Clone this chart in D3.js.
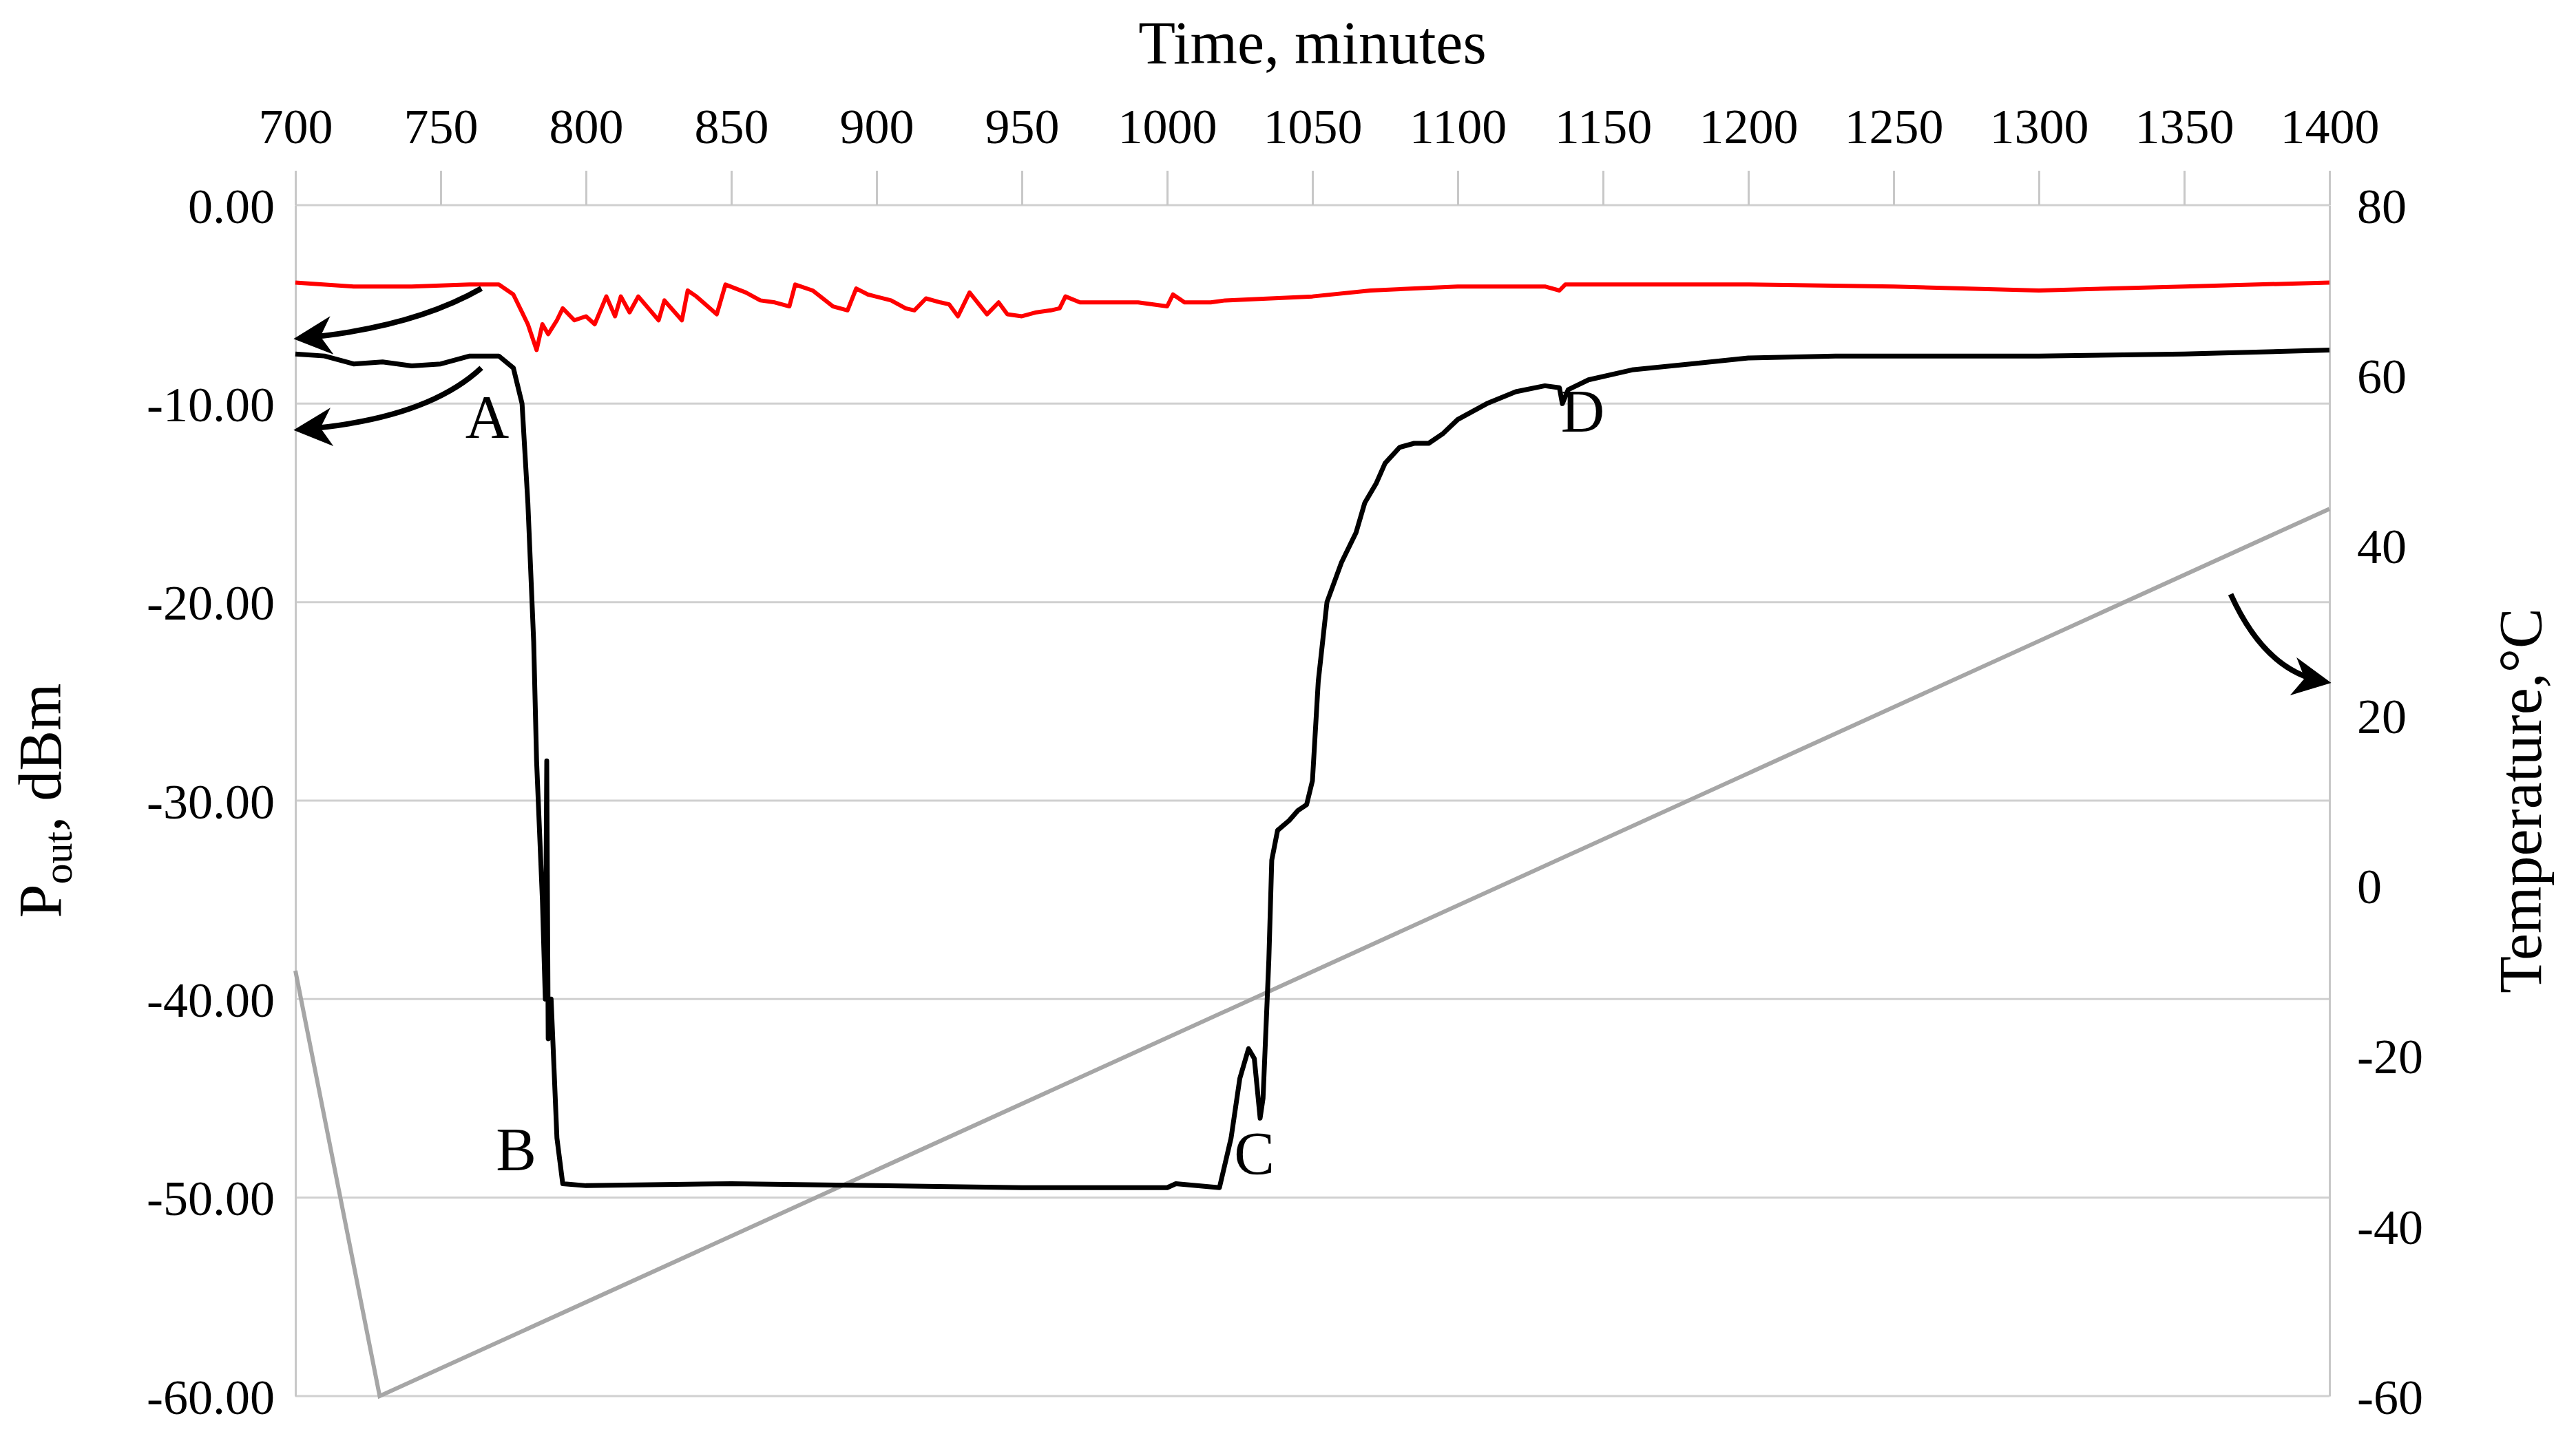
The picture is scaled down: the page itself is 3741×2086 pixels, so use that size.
<!DOCTYPE html>
<html><head><meta charset="utf-8">
<script src="https://cdn.jsdelivr.net/npm/d3@7"></script>
<style>body{margin:0;background:#fff}</style>
</head><body>
<div class="viz"></div>
<script>
// data
const blackMin = [700,710,720,730,740,750,760,770,775,778,780,782,783,785,786,786.5,787,788,790,792,800,850,900,950,1000,1003,1018,1022,1025,1028,1030,1032,1033,1035,1036,1038,1042,1045,1048,1050,1052,1055,1060,1065,1068,1072,1075,1080,1085,1090,1095,1100,1110,1120,1130,1135,1136,1138,1145,1160,1180,1200,1230,1300,1350,1400];
const blackDbm = [-7.5,-7.6,-8.0,-7.9,-8.1,-8.0,-7.6,-7.6,-8.2,-10,-15,-22,-28,-35,-40,-28,-42,-40,-47,-49.3,-49.4,-49.3,-49.4,-49.5,-49.5,-49.3,-49.5,-47,-44,-42.5,-43,-46,-45,-38,-33,-31.5,-31,-30.5,-30.2,-29,-24,-20,-18,-16.5,-15,-14,-13,-12.2,-12,-12,-11.5,-10.8,-10,-9.4,-9.1,-9.2,-10,-9.3,-8.8,-8.3,-8.0,-7.7,-7.6,-7.6,-7.5,-7.3];
const redMin = [700,720,740,760,770,775,780,783,785,787,790,792,796,800,803,807,810,812,815,818,825,827,833,835,838,845,848,855,860,865,870,872,878,885,890,893,897,905,910,913,917,922,925,928,932,938,942,945,950,955,960,963,965,970,990,1000,1002,1006,1015,1020,1050,1070,1100,1130,1135,1137,1200,1250,1300,1350,1400];
const redDbm = [-3.9,-4.1,-4.1,-4.0,-4.0,-4.5,-6,-7.3,-6,-6.5,-5.8,-5.2,-5.8,-5.6,-6,-4.6,-5.6,-4.6,-5.4,-4.6,-5.8,-4.8,-5.8,-4.3,-4.6,-5.5,-4.0,-4.4,-4.8,-4.9,-5.1,-4.0,-4.3,-5.1,-5.3,-4.2,-4.5,-4.8,-5.2,-5.3,-4.7,-4.9,-5.0,-5.6,-4.4,-5.5,-4.9,-5.5,-5.6,-5.4,-5.3,-5.2,-4.6,-4.9,-4.9,-5.1,-4.5,-4.9,-4.9,-4.8,-4.6,-4.3,-4.1,-4.1,-4.3,-4.0,-4.0,-4.1,-4.3,-4.1,-3.9];
const tempMin = [700,729,1400];
const tempC = [-10,-60,44.3];
const xTicks = d3.range(700,1401,50);
const leftTicks = [0,-10,-20,-30,-40,-50,-60];
const rightTicks = [80,60,40,20,0,-20,-40,-60];
const labels = [{t:"A",x:766,y:-11.7},{t:"B",x:776,y:-48.6},{t:"C",x:1030,y:-48.8},{t:"D",x:1143,y:-11.4}];

const W = 3741, H = 2086;
const m = {l:429, r:W-3383, t:298, b:H-2028};
const font = "'Liberation Serif','DejaVu Serif',serif";
const svg = d3.select(".viz").append("svg").attr("width",W).attr("height",H);
const x = d3.scaleLinear().domain([700,1400]).range([m.l, W-m.r]);
const y = d3.scaleLinear().domain([-60,0]).range([H-m.b, m.t]);
const y2 = d3.scaleLinear().domain([-60,80]).range([H-m.b, m.t]);
const hy = f => d => f(d).replace("\u2212","-");

// gridlines
svg.append("g").selectAll("line").data(leftTicks).enter().append("line")
  .attr("x1",m.l).attr("x2",W-m.r).attr("y1",d=>y(d)).attr("y2",d=>y(d))
  .attr("stroke","#d0d0d0").attr("stroke-width",3);

const gx = svg.append("g").attr("transform",`translate(0,${m.t})`)
  .call(d3.axisTop(x).tickValues(xTicks).tickSize(-50).tickPadding(90).tickFormat(d3.format("d")));
const gl = svg.append("g").attr("transform",`translate(${m.l},0)`)
  .call(d3.axisLeft(y).tickValues(leftTicks).tickSize(0).tickPadding(30).tickFormat(hy(d3.format(".2f"))));
const gr = svg.append("g").attr("transform",`translate(${W-m.r},0)`)
  .call(d3.axisRight(y2).tickValues(rightTicks).tickSize(0).tickPadding(40).tickFormat(hy(d3.format("d"))));
[gx,gl,gr].forEach(g=>{
  g.selectAll("text").attr("font-family",font).attr("font-size",72).attr("fill","#000");
  g.selectAll("line").attr("stroke","#c8c8c8").attr("stroke-width",3);
  g.select(".domain").attr("stroke","#c8c8c8").attr("stroke-width",3);
});
gx.select(".domain").remove();
gx.selectAll("line").attr("transform","translate(0,-50)");
gl.selectAll("text").attr("dy","0.35em");
gr.selectAll("text").attr("dy","0.35em");

const line = d3.line().x(d=>x(d[0])).y(d=>y(d[1]));
svg.append("path").datum(tempMin.map((d,i)=>[d,tempC[i]]))
  .attr("d", d3.line().x(d=>x(d[0])).y(d=>y2(d[1])))
  .attr("fill","none").attr("stroke","#a6a6a6").attr("stroke-width",6);
svg.append("path").datum(redMin.map((d,i)=>[d,redDbm[i]])).attr("d",line)
  .attr("fill","none").attr("stroke","#ff0000").attr("stroke-width",6).attr("stroke-linejoin","round");
svg.append("path").datum(blackMin.map((d,i)=>[d,blackDbm[i]])).attr("d",line)
  .attr("fill","none").attr("stroke","#000").attr("stroke-width",7).attr("stroke-linejoin","round");

// point labels
svg.selectAll(".lab").data(labels).enter().append("text")
  .attr("x",d=>x(d.x)).attr("y",d=>y(d.y)).attr("text-anchor","middle")
  .attr("font-family",font).attr("font-size",88).text(d=>d.t);

// curved arrows (from, control, to) in data units
svg.append("defs").append("marker").attr("id","ah").attr("viewBox","0 0 10 10")
  .attr("refX",8).attr("refY",5).attr("markerWidth",7).attr("markerHeight",7)
  .attr("orient","auto").append("path").attr("d","M0,0 L10,5 L0,10 L3,5 Z").attr("fill","#000");
const arrows = [
  {p:[[764,-4.2],[740,-6.2],[702,-6.7]]},
  {p:[[764,-8.2],[745,-10.8],[702,-11.3]]},
  {p:[[1366,-19.6],[1378,-23.5],[1398,-24.0]]}
];
arrows.forEach(a=>{
  const [p0,p1,p2] = a.p.map(d=>[x(d[0]),y(d[1])]);
  svg.append("path").attr("d",`M${p0}Q${p1} ${p2}`).attr("fill","none")
    .attr("stroke","#000").attr("stroke-width",8).attr("marker-end","url(#ah)");
});

// axis titles
svg.append("text").attr("x",(m.l+W-m.r)/2).attr("y",92).attr("text-anchor","middle")
  .attr("font-family",font).attr("font-size",88).text("Time, minutes");
const yt = svg.append("text").attr("transform",`translate(88,${(m.t+H-m.b)/2}) rotate(-90)`)
  .attr("text-anchor","middle").attr("font-family",font).attr("font-size",88);
yt.append("tspan").text("P");
yt.append("tspan").attr("font-size",60).attr("dy",16).text("out");
yt.append("tspan").attr("dy",-16).text(", dBm");
svg.append("text").attr("transform",`translate(3690,${(m.t+H-m.b)/2}) rotate(-90)`)
  .attr("text-anchor","middle").attr("font-family",font).attr("font-size",88).text("Temperature,°C");
</script>
</body></html>
